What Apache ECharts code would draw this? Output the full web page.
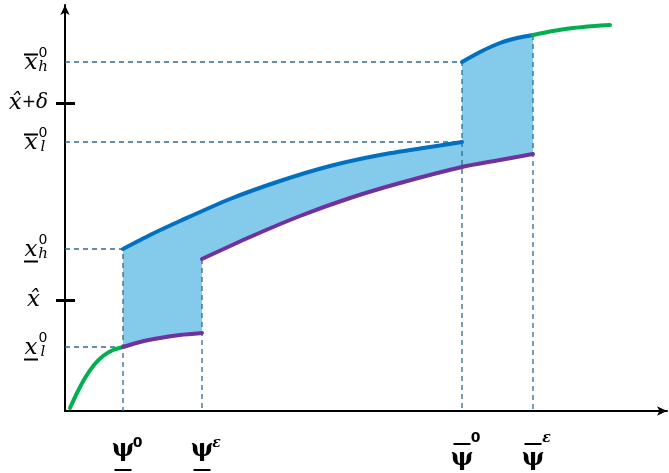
<!DOCTYPE html>
<html>
<head>
<meta charset="utf-8">
<script src="https://cdn.jsdelivr.net/npm/echarts@6/dist/echarts.min.js"></script>
<style>
  html, body { margin: 0; padding: 0; background: #fff; }
  #chart { width: 669px; height: 473px; }
</style>
</head>
<body>
<div id="chart"></div>
<script>
// Key positions on the horizontal (psi) axis
const psiUnder0 = 58, psiUnderEps = 137, psiOver0 = 397, psiOverEps = 468;
// Key levels on the vertical (x) axis
const xUnderL0 = 64, xHat = 111, xUnderH0 = 162, xOverL0 = 269, xHatDelta = 308, xOverH0 = 349;

// Horizontal tick labels
const xTickValues = [psiUnder0, psiUnderEps, psiOver0, psiOverEps];
const xTickText = ['ψ', 'ψ', 'ψ', 'ψ'];
const xTickBar = ['under', 'under', 'over', 'over'];
const xTickSup = ['0', 'ε', '0', 'ε'];

// Vertical tick labels
const yTickValues = [xUnderL0, xHat, xUnderH0, xOverL0, xHatDelta, xOverH0];
const yTickText = ['x', 'x̂', 'x', 'x', 'x̂', 'x'];
const yTickTail = ['', '', '', '', 'δ', ''];
const yTickBar = ['under', '', 'under', 'over', '', 'over'];
const yTickSup = ['0', '', '0', '0', '', '0'];
const yTickSub = ['l', '', 'h', 'l', '', 'h'];
const yMarkedTicks = [xHat, xHatDelta];

// Curves
const greenLowX = [5, 12, 20, 29, 38, 48, psiUnder0];
const greenLowY = [3, 18, 33, 46, 55, 61, xUnderL0];
const purpleLowX = [psiUnder0, 75, 95, 115, psiUnderEps];
const purpleLowY = [xUnderL0, 69, 73, 76, 78];
const blueMainX = [psiUnder0, 85, 115, 165, 215, 265, 315, 365, psiOver0];
const blueMainY = [xUnderH0, 176, 190, 212, 230, 245, 256, 264, xOverL0];
const purpleMainX = [psiUnderEps, 185, 235, 285, 335, psiOver0, 435, psiOverEps];
const purpleMainY = [152, 174, 195, 213, 228, 244, 251, 257];
const blueHighX = [psiOver0, 415, 435, 452, psiOverEps];
const blueHighY = [xOverH0, 359, 368, 373, 376];
const greenHighX = [psiOverEps, 488, 508, 530, 545];
const greenHighY = [376, 380, 383, 385, 386];

const zip = (xs, ys) => xs.map((x, i) => [x, ys[i]]);

// Shaded band: upper edge left-to-right, then lower edge right-to-left
const upperEdge = zip(blueMainX, blueMainY).concat(zip(blueHighX, blueHighY));
const lowerEdge = zip(purpleLowX, purpleLowY).concat(zip(purpleMainX, purpleMainY));
const bandPolygon = upperEdge.concat(lowerEdge.slice().reverse());

const COLORS = {
  band: '#84CAEB',
  blue: '#0070C0',
  purple: '#7030A0',
  green: '#00B050',
  guide: '#2E6A8C',
  axis: '#000000'
};

function curve(xs, ys, color) {
  return {
    type: 'line',
    data: zip(xs, ys),
    smooth: 0.25,
    showSymbol: false,
    z: 5,
    lineStyle: { color: color, width: 4, cap: 'round' },
    silent: true
  };
}

function guide(points) {
  return {
    type: 'line',
    data: points,
    showSymbol: false,
    z: 3,
    lineStyle: { color: COLORS.guide, width: 1.3, type: [5, 4] },
    silent: true
  };
}

function xLabel(value) {
  const i = xTickValues.indexOf(value);
  if (i < 0) return '';
  const supStyle = xTickSup[i] === 'ε' ? 'supE' : 'sup0';
  if (xTickBar[i] === 'over') {
    return '{gapOver| }\n' +
           '{sp| }{obar| }{' + supStyle + '|' + xTickSup[i] + '}\n' +
           '{sp| }{psi|' + xTickText[i] + '}{sp| }';
  }
  return '{gapTop| }\n' +
         '{sp| }{psi|' + xTickText[i] + '}{' + supStyle + 'T|' + xTickSup[i] + '}\n' +
         '{sp| }{ubar| }{sp| }';
}

function yLabel(value) {
  const i = yTickValues.indexOf(value);
  if (i < 0) return '';
  if (!yTickBar[i]) {
    return yTickTail[i]
      ? '{xv|' + yTickText[i] + '}{plus|+}{delta|' + yTickTail[i] + '}'
      : '{xv|' + yTickText[i] + '}{trail| }';
  }
  const lead = '{lead| }';
  const top = (yTickBar[i] === 'over' ? '{obar| }' : '{blank| }') + '{ysup|' + yTickSup[i] + '}';
  const mid = '{xb|' + yTickText[i] + '}{ysub|' + yTickSub[i] + '}';
  const bot = (yTickBar[i] === 'under' ? '{ubar| }' : '{blank2| }') + '{ysp| }';
  return lead + '\n' + top + '\n' + mid + '\n' + bot;
}

const xRich = {
  sp: { width: 10, fontSize: 10, lineHeight: 14 },
  psi: { fontFamily: 'DejaVu Serif', fontWeight: 'bold', fontSize: 24, width: 19, align: 'center', lineHeight: 27, color: '#000' },
  obar: { width: 17, height: 2, lineHeight: 14, backgroundColor: '#000', verticalAlign: 'bottom' },
  ubar: { width: 17, height: 2, lineHeight: 4, backgroundColor: '#000' },
  sup0: { fontFamily: 'DejaVu Sans', fontWeight: 'bold', fontSize: 14, width: 10, lineHeight: 14, verticalAlign: 'bottom', color: '#000' },
  supE: { fontFamily: 'DejaVu Serif', fontStyle: 'italic', fontWeight: 'bold', fontSize: 14, width: 10, lineHeight: 14, verticalAlign: 'bottom', color: '#000' },
  sup0T: { fontFamily: 'DejaVu Sans', fontWeight: 'bold', fontSize: 14, width: 10, lineHeight: 27, verticalAlign: 'top', color: '#000' },
  supET: { fontFamily: 'DejaVu Serif', fontStyle: 'italic', fontWeight: 'bold', fontSize: 14, width: 10, lineHeight: 27, verticalAlign: 'top', color: '#000' },
  gapTop: { height: 7, lineHeight: 7, fontSize: 5 },
  gapOver: { height: 2, lineHeight: 2, fontSize: 2 }
};

const yRich = {
  lead: { width: 14, fontSize: 4, lineHeight: 5 },
  xb: { fontFamily: 'DejaVu Serif', fontStyle: 'italic', fontSize: 23, width: 14, align: 'center', lineHeight: 12, verticalAlign: 'middle', color: '#000' },
  ysub: { fontFamily: 'DejaVu Serif', fontStyle: 'italic', fontSize: 15, width: 10, align: 'left', lineHeight: 12, verticalAlign: 'middle', padding: [7, 0, 0, 0], color: '#000' },
  ysup: { fontFamily: 'DejaVu Sans', fontSize: 14, width: 10, align: 'left', lineHeight: 4, verticalAlign: 'middle', padding: [0, 0, 5, 0], color: '#000' },
  ysp: { width: 10, fontSize: 4, lineHeight: 6 },
  obar: { width: 14, height: 2, lineHeight: 4, backgroundColor: '#000', verticalAlign: 'top' },
  blank: { width: 14, fontSize: 4, lineHeight: 4 },
  ubar: { width: 14, height: 2, lineHeight: 6, backgroundColor: '#000', verticalAlign: 'bottom' },
  blank2: { width: 14, fontSize: 4, lineHeight: 6 },
  trail: { width: 8, fontSize: 4, lineHeight: 24 },
  xv: { fontFamily: 'DejaVu Serif', fontStyle: 'italic', fontSize: 23, lineHeight: 24, color: '#000' },
  plus: { fontFamily: 'DejaVu Sans', fontSize: 17, lineHeight: 24, color: '#000' },
  delta: { fontFamily: 'DejaVu Serif', fontStyle: 'italic', fontSize: 20, lineHeight: 24, color: '#000' }
};

const chart = echarts.init(document.getElementById('chart'), null, { renderer: 'canvas' });

chart.setOption({
  animation: false,
  backgroundColor: '#ffffff',
  grid: { left: 65, top: 5, width: 602, height: 406, containLabel: false, outerBoundsMode: 'none' },
  xAxis: {
    type: 'value', min: 0, max: 602,
    axisLine: { show: true, symbol: ['none', 'arrow'], symbolSize: [7, 10], lineStyle: { color: COLORS.axis, width: 2 } },
    axisTick: { show: false },
    splitLine: { show: false },
    axisLabel: { show: true, customValues: xTickValues, margin: 18, formatter: xLabel, rich: xRich }
  },
  yAxis: [
    {
      type: 'value', min: 0, max: 406,
      axisLine: { show: true, symbol: ['none', 'arrow'], symbolSize: [7, 10], lineStyle: { color: COLORS.axis, width: 2 } },
      axisTick: { show: true, customValues: yMarkedTicks, length: 9, lineStyle: { color: COLORS.axis, width: 3 } },
      splitLine: { show: false },
      axisLabel: { show: true, customValues: yTickValues, margin: 17, formatter: yLabel, rich: yRich }
    },
    {
      type: 'value', min: 0, max: 406, position: 'left', offset: 0,
      axisLine: { show: false },
      axisTick: { show: true, inside: true, customValues: yMarkedTicks, length: 10, lineStyle: { color: COLORS.axis, width: 3 } },
      splitLine: { show: false },
      axisLabel: { show: false }
    }
  ],
  series: [
    {
      type: 'custom',
      data: [[0, 0]],
      z: 1,
      silent: true,
      renderItem: (params, api) => ({
        type: 'polygon',
        shape: { points: bandPolygon.map(p => api.coord(p)) },
        style: { fill: COLORS.band }
      })
    },
    guide([[0, xOverH0], [psiOver0, xOverH0], [psiOver0, 0]]),
    guide([[0, xOverL0], [psiOver0, xOverL0]]),
    guide([[0, xUnderH0], [psiUnder0, xUnderH0], [psiUnder0, 0]]),
    guide([[0, xUnderL0], [psiUnder0, xUnderL0]]),
    guide([[psiUnderEps, purpleMainY[0]], [psiUnderEps, 0]]),
    guide([[psiOverEps, blueHighY[blueHighY.length - 1]], [psiOverEps, 0]]),
    curve(greenLowX, greenLowY, COLORS.green),
    curve(purpleLowX, purpleLowY, COLORS.purple),
    curve(blueMainX, blueMainY, COLORS.blue),
    curve(purpleMainX, purpleMainY, COLORS.purple),
    curve(blueHighX, blueHighY, COLORS.blue),
    curve(greenHighX, greenHighY, COLORS.green)
  ]
});
</script>
</body>
</html>
